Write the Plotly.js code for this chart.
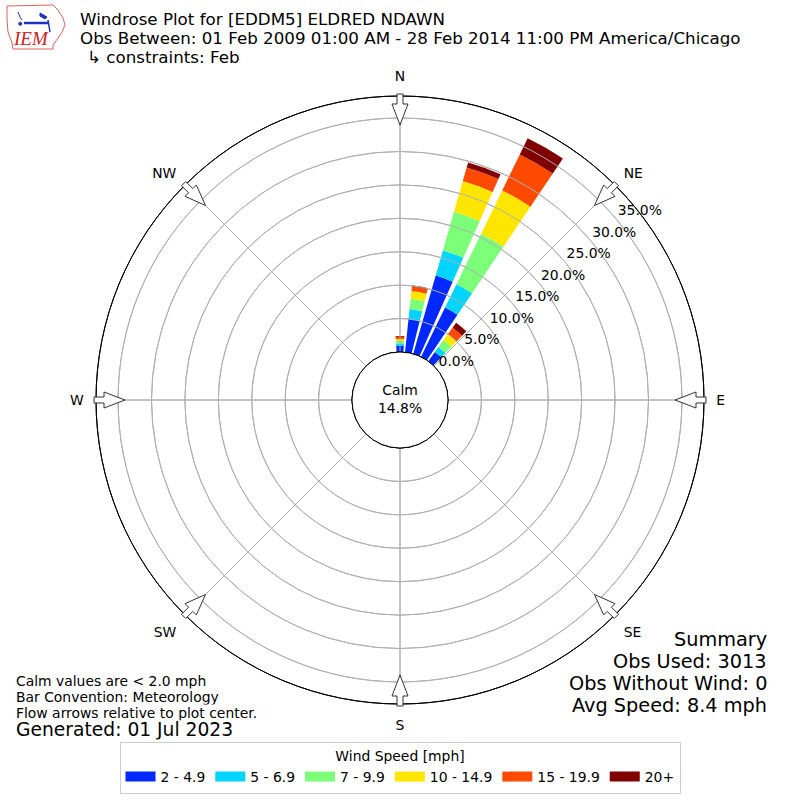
<!DOCTYPE html>
<html>
<head>
<meta charset="utf-8">
<script src="https://cdn.plot.ly/plotly-3.0.1.min.js"></script>
<style>
  html, body { margin: 0; padding: 0; background: #ffffff; }
  #chart { width: 800px; height: 800px; }
</style>
</head>
<body>
<div id="chart"></div>
<script>
// ---------------- data ----------------
const directions = [0, 10, 20, 30, 40];               // degrees (from)
const speedBins = ['2 - 4.9', '5 - 6.9', '7 - 9.9', '10 - 14.9', '15 - 19.9', '20+'];
const binColors = ['#0028ff', '#00d4ff', '#7cff79', '#ffe600', '#ff4a00', '#800000'];
const pct_2_4_9   = [0.90, 5.00, 12.20, 8.20, 1.70];
const pct_5_6_9   = [0.40, 1.50, 3.90, 3.90, 0.90];
const pct_7_9_9   = [0.35, 1.55, 6.00, 8.40, 1.30];
const pct_10_14_9 = [0.30, 1.15, 4.80, 7.20, 1.10];
const pct_15_19_9 = [0.35, 0.70, 2.10, 6.00, 1.20];
const pct_20_plus = [0.10, 0.15, 0.80, 2.70, 0.90];
const calmPct = 14.8;
const compassAngles = [0, 45, 90, 135, 180, 225, 270, 315];
const compassLabels = ['N', 'NE', 'E', 'SE', 'S', 'SW', 'W', 'NW'];
const radialTicks = [0, 5, 10, 15, 20, 25, 30, 35];
const radialTickText = radialTicks.map(v => v.toFixed(1) + '%');
const titleLines = [
  'Windrose Plot for [EDDM5] ELDRED NDAWN',
  'Obs Between: 01 Feb 2009 01:00 AM - 28 Feb 2014 11:00 PM America/Chicago',
  '\u21b3 constraints: Feb'
];
const noteLines = ['Calm values are < 2.0 mph', 'Bar Convention: Meteorology', 'Flow arrows relative to plot center.'];
const generatedText = 'Generated: 01 Jul 2023';
const summaryLines = ['Summary', 'Obs Used: 3013', 'Obs Without Wind: 0', 'Avg Speed: 8.4 mph'];

// ---------------- helpers ----------------
const W = 800, H = 800;
const FONT = 'DejaVu Sans, Liberation Sans, sans-serif';
const px = x => x / W;
const py = y => 1 - y / H;
const CX = 400, CY = 400, R_OUT = 304, R_HOLE = 48;
const R_MAX = 38.3;
const LABEL_ANGLE = 40;   // radial labels run along the 50° (clockwise from N) direction

const series = [pct_2_4_9, pct_5_6_9, pct_7_9_9, pct_10_14_9, pct_15_19_9, pct_20_plus];

const traces = series.map((vals, i) => ({
  type: 'barpolar',
  subplot: 'polar',
  name: speedBins[i],
  legendgroup: speedBins[i],
  showlegend: false,
  r: vals,
  theta: directions,
  width: 8,
  marker: { color: binColors[i], line: { width: 0 } },
  hoverinfo: 'skip'
}));
// legend swatches (wide rectangles like the reference) - no visible data
speedBins.forEach((name, i) => {
  traces.push({
    type: 'scatterpolar', subplot: 'polar2', mode: 'lines',
    name: name, legendgroup: name, showlegend: true,
    r: [null], theta: [null],
    line: { color: binColors[i], width: 10 },
    hoverinfo: 'skip'
  });
});
// host for the radial tick labels
traces.push({ type: 'scatterpolar', subplot: 'polar3', mode: 'lines', r: [null], theta: [null], showlegend: false, hoverinfo: 'skip' });

// ---------------- shapes ----------------
const shapes = [];
// flow arrows at compass points
const arrowPts = [[306, -3], [296, -3], [296, -8], [275, 0], [296, 8], [296, 3], [306, 3]];
compassAngles.forEach(a => {
  const t = a * Math.PI / 180;
  const ux = Math.sin(t), uy = -Math.cos(t);
  const vx = Math.cos(t), vy = Math.sin(t);
  const pts = arrowPts.map(([r, w]) => {
    const x = CX + r * ux + w * vx;
    const y = CY + r * uy + w * vy;
    return px(x).toFixed(5) + ',' + py(y).toFixed(5);
  });
  shapes.push({
    type: 'path', xref: 'paper', yref: 'paper', layer: 'above',
    path: 'M' + pts.join(' L') + ' Z',
    fillcolor: 'white', line: { color: '#333333', width: 1 }
  });
});
// calm circle
shapes.push({
  type: 'circle', xref: 'paper', yref: 'paper', layer: 'above',
  x0: px(CX - R_HOLE), x1: px(CX + R_HOLE), y0: py(CY + R_HOLE), y1: py(CY - R_HOLE),
  fillcolor: 'white', line: { color: 'black', width: 1 }
});
// IEM logo outline (Iowa shape) and glyph
const toPath = pts => pts.map(p => px(p[0]).toFixed(5) + ',' + py(p[1]).toFixed(5)).join(' L');
const iowa = [[7, 6], [53, 5], [58, 10], [63, 18], [65, 25], [62, 32], [58, 38], [53, 45], [53, 49],
              [13, 49], [12, 43], [8, 32], [7, 20]];
shapes.push({
  type: 'path', xref: 'paper', yref: 'paper', layer: 'above',
  path: 'M' + toPath(iowa) + ' Z',
  line: { color: '#e06060', width: 1 }, fillcolor: 'rgba(0,0,0,0)'
});
const glyphLines = [
  [[[18, 12], [20, 17], [22, 20]], 1],
  [[[24, 23], [48, 23]], 2.5],
  [[[48, 20], [49, 26], [50, 32]], 1.5]
];
glyphLines.forEach(([seg, w]) => {
  shapes.push({
    type: 'path', xref: 'paper', yref: 'paper', layer: 'above',
    path: 'M' + toPath(seg),
    line: { color: '#2030c0', width: w }
  });
});
shapes.push({
  type: 'path', xref: 'paper', yref: 'paper', layer: 'above',
  path: 'M' + toPath([[40, 13], [47, 17], [45, 19], [40, 16]]) + ' Z',
  fillcolor: '#2030c0', line: { color: '#2030c0', width: 1 }
});
shapes.push({
  type: 'circle', xref: 'paper', yref: 'paper', layer: 'above',
  x0: px(18.5), x1: px(22), y0: py(25.5), y1: py(22),
  fillcolor: '#2030c0', line: { color: '#2030c0', width: 0.5 }
});

// ---------------- annotations ----------------
const ann = [];
function addText(text, x, y, size, xanchor, extra) {
  ann.push(Object.assign({
    text: text, xref: 'paper', yref: 'paper', x: px(x), y: py(y),
    xanchor: xanchor, yanchor: 'middle', showarrow: false, borderpad: 0, borderwidth: 0,
    font: { family: FONT, size: size, color: 'black' }
  }, extra || {}));
}
addText(titleLines[1], 80, 38, 16.7, 'left', { height: 17.4 });
addText(titleLines[2], 87, 56.8, 16.7, 'left', { height: 17.4 });
addText(noteLines[0], 16, 681, 13.9, 'left', { height: 15.5 });
addText(noteLines[1], 16, 696.6, 13.9, 'left', { height: 15.5 });
addText(noteLines[2], 16, 712.2, 13.9, 'left', { height: 15.2 });
addText(generatedText, 16, 729.5, 18.7, 'left', { height: 19.6 });
summaryLines.forEach((t, i) => addText(t, 767, 640 + i * 22, 19.3, 'right', { height: 21.8 }));
addText('Calm<br>' + calmPct.toFixed(1) + '%', 400, 399, 13.9, 'center', { align: 'center' });
ann.push({
  text: '<i>IEM</i>', xref: 'paper', yref: 'paper', x: px(31), y: py(38.5),
  xanchor: 'center', yanchor: 'middle', showarrow: false,
  font: { family: 'Liberation Serif, DejaVu Serif, serif', size: 19, color: '#d02020' }
});

// ---------------- layout ----------------
const gridColor = '#b0b0b0';
const domAt = (cx, cy) => ({ x: [px(cx - R_OUT), px(cx + R_OUT)], y: [py(cy + R_OUT), py(cy - R_OUT)] });
const dom = domAt(CX, CY);
const hiddenAngular = {
  rotation: 90, direction: 'clockwise', showticklabels: false, ticks: '',
  showline: false, showgrid: false
};
const layout = {
  width: W, height: H,
  margin: { l: 0, r: 0, t: 0, b: 0 },
  paper_bgcolor: 'white',
  font: { family: FONT, size: 13.9, color: 'black' },
  title: {
    text: titleLines[0], xref: 'paper', yref: 'paper',
    x: px(80), xanchor: 'left', y: py(19.6), yanchor: 'middle',
    font: { family: FONT, size: 16.7, color: 'black' }
  },
  showlegend: true,
  legend: {
    orientation: 'h', x: 0.5, xanchor: 'center', y: py(742), yanchor: 'top',
    bordercolor: '#cccccc', borderwidth: 1, bgcolor: 'white',
    font: { family: FONT, size: 13.9, color: 'black' },
    title: { text: 'Wind Speed [mph]', side: 'top center', font: { family: FONT, size: 13.9 } },
    traceorder: 'normal', itemclick: false, itemdoubleclick: false
  },
  polar: {
    domain: dom,
    hole: R_HOLE / R_OUT,
    bgcolor: 'white',
    barmode: 'stack',
    radialaxis: {
      range: [0, R_MAX], tickmode: 'array', tickvals: radialTicks,
      angle: LABEL_ANGLE, showticklabels: false, showline: false, ticks: '',
      gridcolor: gridColor, gridwidth: 1
    },
    angularaxis: {
      rotation: 90, direction: 'clockwise', tickmode: 'array',
      tickvals: compassAngles, ticktext: compassLabels,
      showline: true, linecolor: 'black', linewidth: 1,
      gridcolor: gridColor, gridwidth: 1,
      ticks: 'outside', ticklen: 9, tickcolor: 'rgba(0,0,0,0)',
      tickfont: { family: FONT, size: 13.9, color: 'black' }
    }
  },
  polar2: {
    domain: dom,
    hole: R_HOLE / R_OUT,
    bgcolor: 'rgba(0,0,0,0)',
    radialaxis: {
      range: [0, R_MAX], tickmode: 'array', tickvals: radialTicks,
      showticklabels: false, showline: false, ticks: '', angle: LABEL_ANGLE,
      gridcolor: gridColor, gridwidth: 1
    },
    angularaxis: {
      rotation: 90, direction: 'clockwise', tickmode: 'array', tickvals: compassAngles,
      showticklabels: false, ticks: '', showline: true, linecolor: 'black', linewidth: 1,
      gridcolor: gridColor, gridwidth: 1
    }
  },
  // same radial scale, used only to place the percentage labels beside the 50° spoke
  polar3: {
    domain: domAt(397, 384),
    hole: R_HOLE / R_OUT,
    bgcolor: 'rgba(0,0,0,0)',
    radialaxis: {
      range: [0, R_MAX], tickmode: 'array', tickvals: radialTicks, ticktext: radialTickText,
      angle: LABEL_ANGLE, side: 'clockwise', showline: false, showgrid: false, ticks: '',
      tickangle: LABEL_ANGLE,
      tickfont: { family: FONT, size: 13.9, color: 'black' }
    },
    angularaxis: hiddenAngular
  },
  shapes: shapes,
  annotations: ann,
  hovermode: false
};

Plotly.newPlot('chart', traces, layout, { displayModeBar: false, staticPlot: true });
</script>
</body>
</html>
